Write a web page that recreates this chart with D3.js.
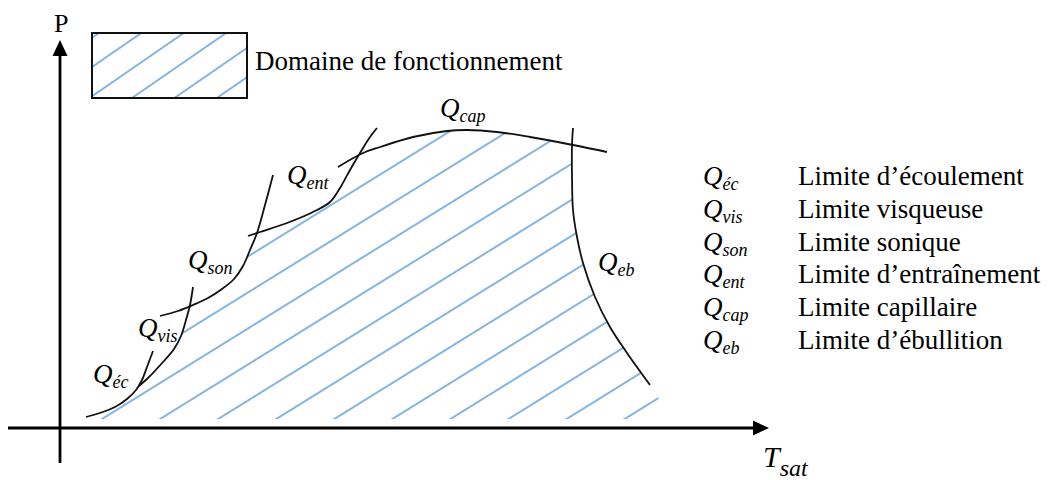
<!DOCTYPE html>
<html>
<head>
<meta charset="utf-8">
<script src="https://cdn.jsdelivr.net/npm/d3@7"></script>
<style>
  body { margin: 0; background: #fff; }
  svg { display: block; font-family: "Liberation Serif", "Times New Roman", serif; }
</style>
</head>
<body>
<svg id="chart" width="1052" height="480"></svg>
<script>
// Limit curves, [T, P] in schematic units (origin = axes crossing)
const qEc = [[26, 11], [40, 15], [55, 21], [67, 29], [76, 38], [82, 48], [87, 61], [93, 77]];
const qVis = [[79, 42], [88, 50], [103, 66], [114, 79], [121, 92], [126, 108], [130, 123], [133, 141]];
const qSon = [[100, 112], [118, 117], [133, 123], [148, 130], [162, 139], [174, 149], [183, 162],
  [190, 178], [197, 195], [205, 223], [213, 253]];
const qEnt = [[188, 192], [200, 196], [227, 205], [253, 216], [270, 226], [280, 240], [290, 258],
  [300, 275], [310, 291], [317, 300]];
const qCap = [[278, 261], [303, 275], [320, 281], [353, 291], [387, 297], [407, 298], [437, 296],
  [470, 291], [513, 283], [547, 276]];
const qEb = [[513, 300], [512, 283], [512, 251], [513, 218], [517, 191], [523, 165], [535, 131],
  [550, 101], [567, 75], [590, 43]];

// Outline of the operating domain (hatched area)
const domainOutline = [[26, 9], [26, 11], [40, 15], [55, 21], [67, 29], [76, 38], [81, 45], [88, 50],
  [103, 66], [114, 79], [121, 92], [126, 108], [130, 122], [148, 130], [162, 139], [174, 149],
  [183, 162], [190, 178], [197, 195], [227, 205], [253, 216], [270, 226], [280, 240], [290, 258],
  [301, 274], [320, 281], [353, 291], [387, 297], [407, 298], [437, 296], [470, 291], [512, 284],
  [512, 251], [513, 218], [517, 191], [523, 165], [535, 131], [550, 101], [567, 75], [590, 43],
  [612, 9]];

const subscripts = ["éc", "vis", "son", "ent", "cap", "eb"];
const limitNames = ["Limite d’écoulement", "Limite visqueuse", "Limite sonique",
  "Limite d’entraînement", "Limite capillaire", "Limite d’ébullition"];
const labelSpots = [[33, 45], [78, 91], [128, 159], [227, 244], [380, 311], [538, 157]];

const svg = d3.select("#chart");
const x = d3.scaleLinear().domain([0, 710]).range([60, 770]);
const y = d3.scaleLinear().domain([0, 400]).range([428, 28]);

const blue = "#5b9bd5";
const defs = svg.append("defs");

// hatch pattern: parallel lines at a given angle / gap, phased on (ox, oy)
function hatch(id, angle, gap, ox, oy) {
  const p = defs.append("pattern")
    .attr("id", id)
    .attr("patternUnits", "userSpaceOnUse")
    .attr("width", 2000)
    .attr("height", gap)
    .attr("patternTransform", `translate(${ox},${oy}) rotate(${-angle})`);
  [0, gap].forEach((yy) => {
    p.append("line")
      .attr("x1", 0).attr("x2", 2000)
      .attr("y1", yy).attr("y2", yy)
      .attr("stroke", blue)
      .attr("stroke-width", 1.3);
  });
}
hatch("hatchMain", 31.8, 30.6, x(42), y(9));
hatch("hatchBox", 34.6, 24.1, 89.5, 98);

// hatched domain
svg.append("path")
  .attr("d", d3.line().x((d) => x(d[0])).y((d) => y(d[1]))(domainOutline) + "Z")
  .attr("fill", "url(#hatchMain)")
  .attr("stroke", "none");

// axes
const axisColor = "#000";
svg.append("line")
  .attr("x1", x(0)).attr("x2", x(0))
  .attr("y1", y(-35)).attr("y2", y(374))
  .attr("stroke", axisColor).attr("stroke-width", 2.8);
svg.append("path")
  .attr("d", `M${x(0)},${y(388)} L${x(0) - 7.5},${y(372)} L${x(0) + 7.5},${y(372)} Z`)
  .attr("fill", axisColor);
svg.append("line")
  .attr("x1", x(-52)).attr("x2", x(695))
  .attr("y1", y(0)).attr("y2", y(0))
  .attr("stroke", axisColor).attr("stroke-width", 2.8);
svg.append("path")
  .attr("d", `M${x(709)},${y(0)} L${x(693)},${y(0) - 7.5} L${x(693)},${y(0) + 7.5} Z`)
  .attr("fill", axisColor);

svg.append("text")
  .attr("x", 54).attr("y", 32)
  .attr("font-size", 26)
  .text("P");

const tLabel = svg.append("text")
  .attr("x", 763).attr("y", 467)
  .attr("font-style", "italic")
  .attr("font-size", 30);
tLabel.append("tspan").text("T");
tLabel.append("tspan").attr("dy", 9).attr("font-size", 24).text("sat");

// limit curves
const curveLine = d3.line()
  .x((d) => x(d[0]))
  .y((d) => y(d[1]))
  .curve(d3.curveCatmullRom.alpha(0.5));

[qEc, qVis, qSon, qEnt, qCap, qEb].forEach((pts) => {
  svg.append("path")
    .attr("d", curveLine(pts))
    .attr("fill", "none")
    .attr("stroke", "#111")
    .attr("stroke-width", 1.8);
});

// Q labels on the curves
function qLabel(px, py, sub) {
  const t = svg.append("text")
    .attr("x", px).attr("y", py)
    .attr("font-style", "italic")
    .attr("font-size", 27);
  t.append("tspan").text("Q");
  t.append("tspan").attr("dy", 5).attr("font-size", 18).text(sub);
}

labelSpots.forEach((d, i) => qLabel(x(d[0]), y(d[1]), subscripts[i]));

// legend box
svg.append("rect")
  .attr("x", 92).attr("y", 33)
  .attr("width", 155).attr("height", 65)
  .attr("fill", "url(#hatchBox)")
  .attr("stroke", "#111")
  .attr("stroke-width", 2);
svg.append("text")
  .attr("x", 255).attr("y", 70)
  .attr("font-size", 27)
  .text("Domaine de fonctionnement");

// limit legend
limitNames.forEach((name, i) => {
  const by = 185 + i * 32.8;
  qLabel(703, by, subscripts[i]);
  svg.append("text")
    .attr("x", 798).attr("y", by)
    .attr("font-size", 27)
    .text(name);
});
</script>
</body>
</html>
